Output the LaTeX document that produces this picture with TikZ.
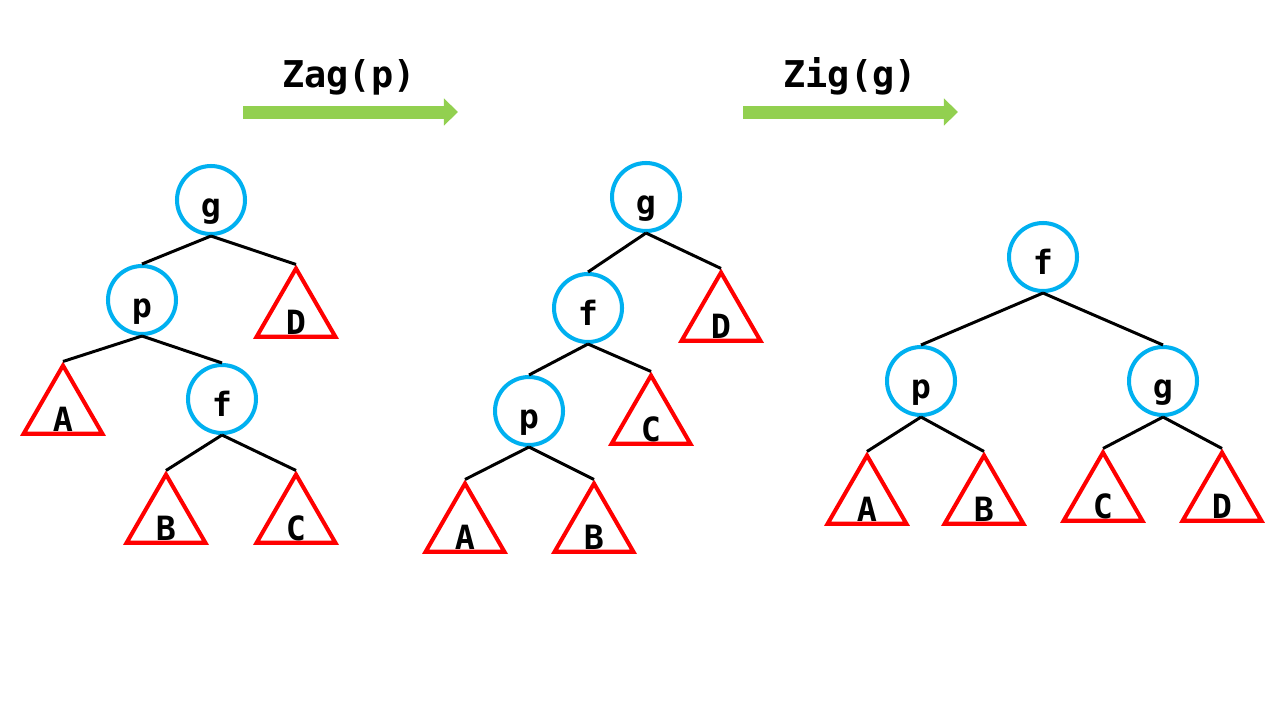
\documentclass[tikz,border=0pt]{standalone}
\usepackage{fontspec}
\setmonofont{DejaVu Sans Mono}
\usepackage{xcolor}
\usepackage{tikz}
\usetikzlibrary{positioning,arrows.meta,shapes.geometric}
\definecolor{keyblue}{HTML}{00B0F0}
\definecolor{subred}{HTML}{FF0000}
\definecolor{rotgreen}{HTML}{92D050}

\begin{document}
\begin{tikzpicture}[
    x=0.02cm, y=-0.02cm,
    key/.style={circle, draw=keyblue, line width=2.3pt, minimum size=1.36cm,
                inner sep=0pt, text height=20pt, text depth=0pt,
                font=\fontsize{19}{22}\selectfont\ttfamily\bfseries},
    sub/.style={regular polygon, regular polygon sides=3, draw=subred,
                line width=2.3pt, minimum size=1.82cm, inner sep=0pt},
    sublabel/.style={font=\fontsize{19}{22}\selectfont\ttfamily\bfseries,
                     yshift=-5pt},
    edge/.style={line width=1.7pt},
    rot/.style={-{Triangle[length=8pt, width=15pt]}, draw=rotgreen,
                line width=7.4pt},
    title/.style={anchor=base, font=\fontsize{21}{25}\selectfont\ttfamily\bfseries},
]
\useasboundingbox (0,0) rectangle (1280,720);

% Rotations
\coordinate (zagS) at (243,112);
\coordinate (zagE) at (458,112);
\draw[rot] (zagS) -- (zagE);
\node[title] (zag) at (349,87) {Zag(p)};

\coordinate (zigS) at (743,112);
\coordinate (zigE) at (958,112);
\draw[rot] (zigS) -- (zigE);
\node[title] (zig) at (850,87) {Zig(g)};

% Tree before
\node[key] (g1) at (211,200) {g};
\node[key] (p1) at (142,300) {p};
\node[key] (f1) at (222,399) {f};
\node[sub, label={[sublabel]center:A}] (A1) at (63,411) {};
\node[sub, label={[sublabel]center:B}] (B1) at (166,520) {};
\node[sub, label={[sublabel]center:C}] (C1) at (296,520) {};
\node[sub, label={[sublabel]center:D}] (D1) at (296,314) {};

\draw[edge] (g1.south) -- (p1.north);
\draw[edge] (g1.south) -- (D1.corner 1);
\draw[edge] (p1.south) -- (A1.corner 1);
\draw[edge] (p1.south) -- (f1.north);
\draw[edge] (f1.south) -- (B1.corner 1);
\draw[edge] (f1.south) -- (C1.corner 1);

% After Zag(p)
\node[key] (g2) at (646,197) {g};
\node[key] (f2) at (588,308) {f};
\node[key] (p2) at (529,411) {p};
\node[sub, label={[sublabel]center:A}] (A2) at (465,529) {};
\node[sub, label={[sublabel]center:B}] (B2) at (594,529) {};
\node[sub, label={[sublabel]center:C}] (C2) at (651,421) {};
\node[sub, label={[sublabel]center:D}] (D2) at (721,318) {};

\draw[edge] (g2.south) -- (f2.north);
\draw[edge] (g2.south) -- (D2.corner 1);
\draw[edge] (f2.south) -- (p2.north);
\draw[edge] (f2.south) -- (C2.corner 1);
\draw[edge] (p2.south) -- (A2.corner 1);
\draw[edge] (p2.south) -- (B2.corner 1);

% After Zig(g)
\node[key] (f3) at (1043,257) {f};
\node[key] (p3) at (921,381) {p};
\node[key] (g3) at (1163,381) {g};
\node[sub, label={[sublabel]center:A}] (A3) at (867,501) {};
\node[sub, label={[sublabel]center:B}] (B3) at (984,501) {};
\node[sub, label={[sublabel]center:C}] (C3) at (1103,498) {};
\node[sub, label={[sublabel]center:D}] (D3) at (1222,498) {};

\draw[edge] (f3.south) -- (p3.north);
\draw[edge] (f3.south) -- (g3.north);
\draw[edge] (p3.south) -- (A3.corner 1);
\draw[edge] (p3.south) -- (B3.corner 1);
\draw[edge] (g3.south) -- (C3.corner 1);
\draw[edge] (g3.south) -- (D3.corner 1);

\end{tikzpicture}
\end{document}
